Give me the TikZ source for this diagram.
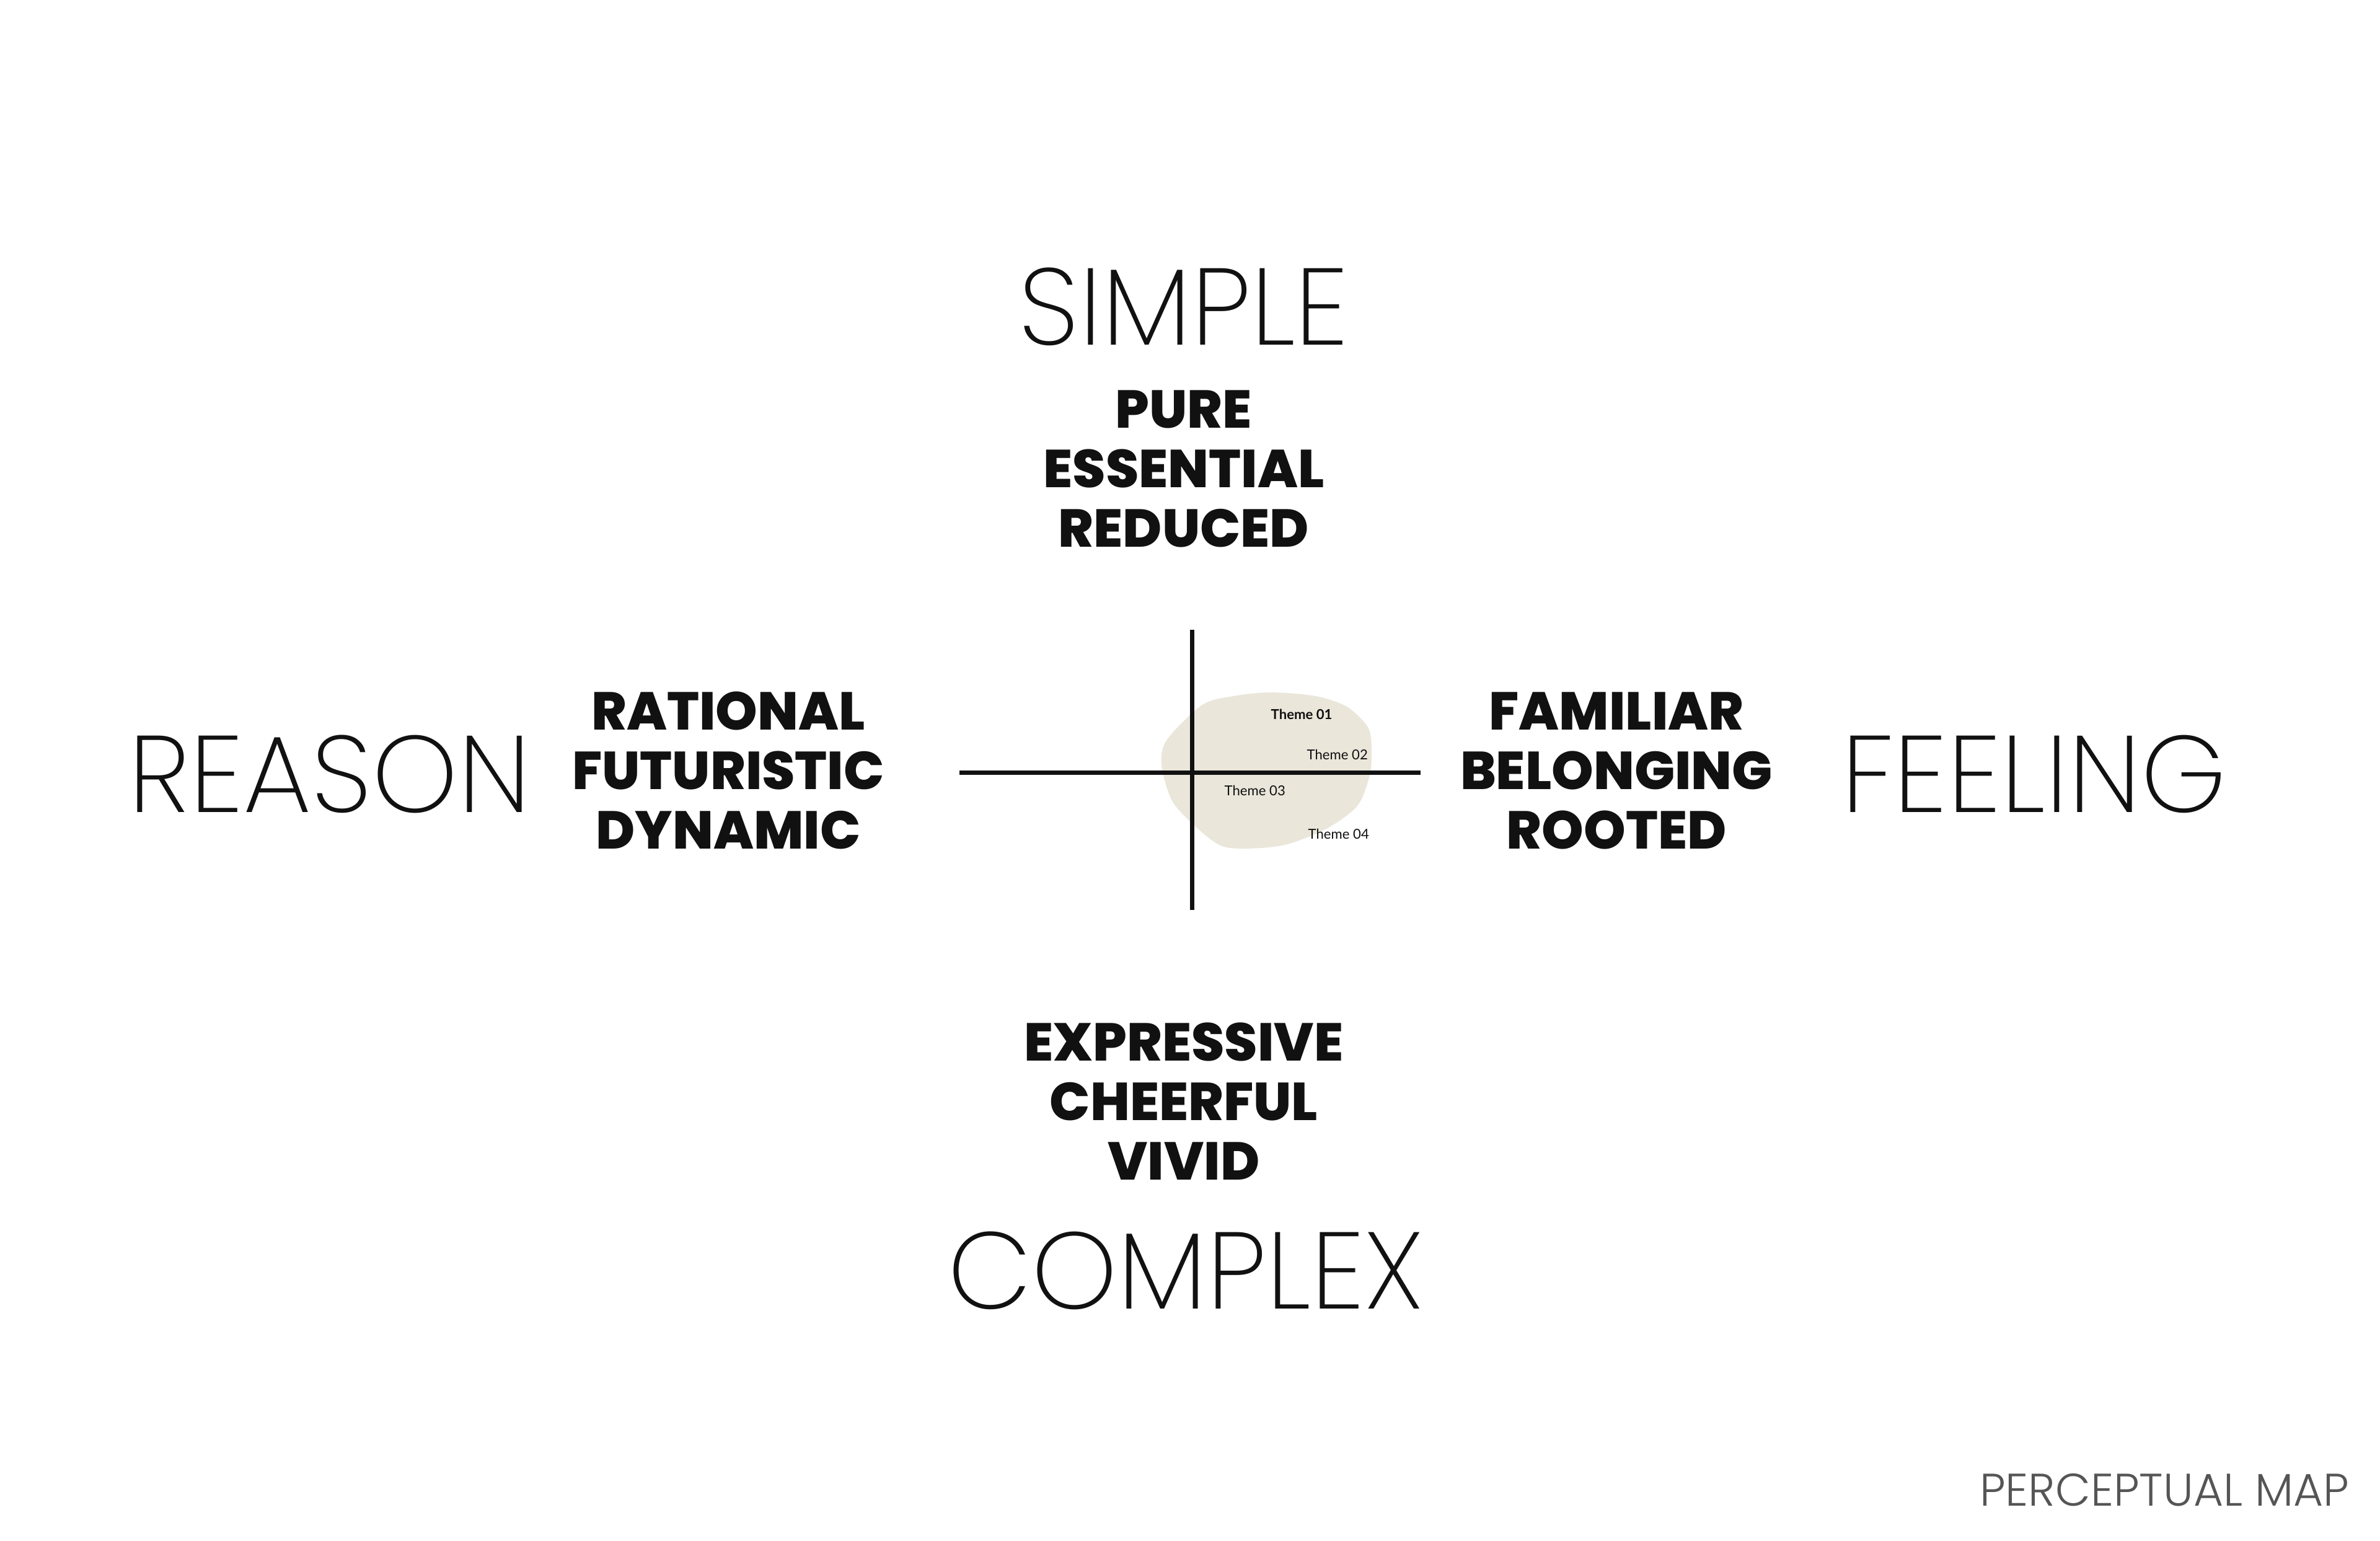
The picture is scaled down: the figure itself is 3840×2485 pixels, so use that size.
\documentclass[tikz,border=0pt]{standalone}
\usepackage{fontspec}
\setmainfont{Poppins}
\newfontfamily\pmthin{Poppins ExtraLight}
\newfontfamily\pmlight{Poppins Light}
\newfontfamily\pmheavy{Poppins ExtraBold}
\newfontfamily\pmsmall{Lato}
\definecolor{pmink}{RGB}{17,17,17}
\definecolor{pmsand}{RGB}{234,230,218}
\definecolor{pmgray}{RGB}{85,85,85}
\tikzset{
  pmpole/.style={
    inner sep=0pt,
    text=pmink,
    font=\pmthin\fontsize{50}{50}\selectfont
  },
  pmwords/.style={
    inner sep=0pt,
    align=center,
    text=pmink,
    font=\pmheavy\fontsize{24.5}{27.3}\selectfont
  },
  pmtheme/.style={inner sep=0pt, anchor=west, text=pmink, font=\pmsmall\fontsize{6.3}{7}\selectfont},
  pmtitle/.style={inner sep=0pt, text=pmgray, font=\pmlight\fontsize{21}{21}\selectfont},
  pmaxis/.style={line width=2pt, draw=pmink}
}

\begin{document}
\begin{tikzpicture}[x=0.1mm, y=-0.1mm]
\useasboundingbox (0,0) rectangle (3840,2485);
% theme cloud
\fill[pmsand] plot[smooth cycle] coordinates {
  (2050,1117) (2123,1123) (2173,1140) (2207,1173) (2213,1207) (2210,1250)
  (2190,1300) (2140,1337) (2073,1363) (2007,1369) (1967,1363) (1923,1328)
  (1890,1290) (1874,1233) (1883,1193) (1940,1137) (1990,1123)};
% axes
\coordinate (xw) at (1548,1246);
\coordinate (xe) at (2292,1246);
\coordinate (yn) at (1923,1016);
\coordinate (ys) at (1923,1468);
\draw[pmaxis] (xw) -- (xe);
\draw[pmaxis] (yn) -- (ys);
% poles
\node[pmpole] (simple) at (1910,495) {SIMPLE};
\node[pmpole] (reason) at (532,1249) {REASON};
\node[pmpole] (feeling) at (3282,1249) {FEELING};
\node[pmpole] (complex) at (1913,2050) {COMPLEX};
% attributes
\node[pmwords] (simplewords) at (1910,756) {PURE\\ESSENTIAL\\REDUCED};
\node[pmwords] (reasonwords) at (1175,1243) {RATIONAL\\FUTURISTIC\\DYNAMIC};
\node[pmwords] (feelingwords) at (2608,1243) {FAMILIAR\\BELONGING\\ROOTED};
\node[pmwords] (complexwords) at (1910,1777) {EXPRESSIVE\\CHEERFUL\\VIVID};
% themes
\node[pmtheme, font=\pmsmall\bfseries\fontsize{6.3}{7}\selectfont] (theme1) at (2050,1152) {Theme 01};
\node[pmtheme] (theme2) at (2108,1217) {Theme 02};
\node[pmtheme] (theme3) at (1975,1275) {Theme 03};
\node[pmtheme] (theme4) at (2110,1345) {Theme 04};
\node[pmtitle, anchor=base east] (title) at (3791,2429) {PERCEPTUAL MAP};
\end{tikzpicture}
\end{document}
